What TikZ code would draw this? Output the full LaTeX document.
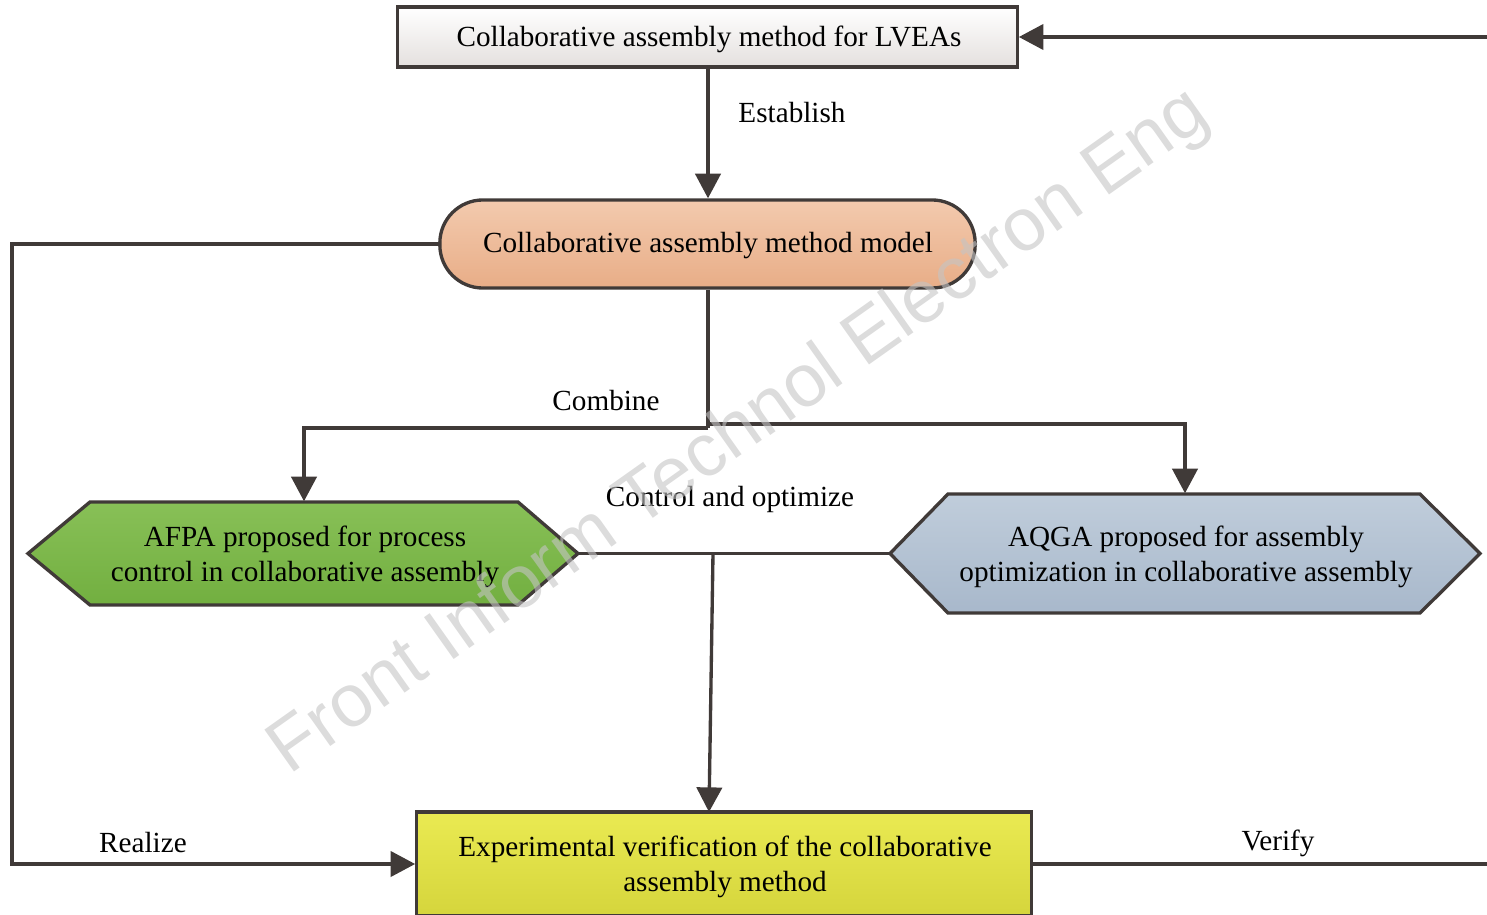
\documentclass[tikz,border=0pt]{standalone}
\usepackage{fontspec}
\setmainfont{Liberation Serif}
\newfontfamily\wmfont{Liberation Sans}
\usetikzlibrary{arrows.meta,calc}
\definecolor{ln}{HTML}{403A38}
\definecolor{topgray}{HTML}{E4E0DE}
\definecolor{salmonT}{HTML}{F3CAAE}
\definecolor{salmonB}{HTML}{E8AD87}
\definecolor{greenT}{HTML}{88C057}
\definecolor{greenB}{HTML}{72AF40}
\definecolor{blueT}{HTML}{C0CDDB}
\definecolor{blueB}{HTML}{A8B8CB}
\definecolor{yelT}{HTML}{EAEA52}
\definecolor{yelB}{HTML}{D5D53C}
\definecolor{wm}{HTML}{C4C4C4}
\begin{document}
\begin{tikzpicture}[x=0.01cm,y=-0.01cm,
  every node/.style={font=\fontsize{8.3}{10}\selectfont, text=black},
  conn/.style={draw=ln,line width=0.95pt},
  arr/.style={conn,-{Triangle[length=7pt,width=7.2pt]}},
  box/.style={draw=ln,line width=0.95pt,inner sep=0pt},
  txt/.style={align=center,inner sep=0pt},
  lbl/.style={inner sep=0pt}]
\useasboundingbox (0,0) rectangle (1487,915);

% boxes
\node[box, top color=white, bottom color=topgray, minimum width=6.19cm, minimum height=0.60cm] (top) at (707.5,37) {};
\node[txt] (topT) at (709,39) {Collaborative assembly method for LVEAs};
\node[box, rounded corners=0.43cm, top color=salmonT, bottom color=salmonB, minimum width=5.35cm, minimum height=0.88cm] (model) at (707.5,244) {};
\node[txt] (modelT) at (708,246) {Collaborative assembly method model};

% hexagons
\shadedraw[draw=ln,line width=0.95pt,top color=greenT,bottom color=greenB]
  (28,553.5) -- (90,502) -- (518,502) -- (578,553.5) -- (518,605) -- (90,605) -- cycle;
\node[inner sep=0pt,minimum width=4.28cm,minimum height=1.03cm] (afpa) at (304,553.5) {};
\node[txt] (afpaT) at (305,557) {AFPA proposed for process\\control in collaborative assembly};
\coordinate (afpaR) at (578,553.5);

\shadedraw[draw=ln,line width=0.95pt,top color=blueT,bottom color=blueB]
  (890,553.5) -- (948,494) -- (1420,494) -- (1480,553.5) -- (1420,613) -- (948,613) -- cycle;
\node[inner sep=0pt,minimum width=4.72cm,minimum height=1.19cm] (aqga) at (1185,553.5) {};
\node[txt] (aqgaT) at (1186,557) {AQGA proposed for assembly\\optimization in collaborative assembly};
\coordinate (aqgaL) at (890,553.5);

\node[box, top color=yelT, bottom color=yelB, minimum width=6.14cm, minimum height=1.04cm] (exp) at (724,864) {};
\node[txt] (expT) at (725,867) {Experimental verification of the collaborative\\assembly method};

% coordinates
\coordinate (rin) at (1487,37);
\coordinate (rout) at (1487,863);
\coordinate (lc) at (12,244);
\coordinate (j1) at (708,428);
\coordinate (j2) at (708,424);
\coordinate (c1) at (713,553.5);
\coordinate (c2) at (709,812);

% connectors
\draw[arr] (rin) -- (top.east);
\draw[arr] (top.south -| 708,0) -- (model.north -| 708,0);
\draw[conn] (model.south -| 708,0) -- (j1);
\draw[arr] (j1) -| (afpa.north);
\draw[arr] (j2) -| (aqga.north);
\draw[conn] (afpaR) -- (aqgaL);
\draw[arr] (c1) -- (c2);
\draw[arr] (model.west) -- (lc) |- (exp.west);
\draw[conn] (exp.east) -- (exp.east -| rout);

% labels
\node[lbl] (lEst) at (792,113) {Establish};
\node[lbl] (lCom) at (606,401) {Combine};
\node[lbl] (lCtl) at (730,499) {Control and optimize};
\node[lbl] (lRea) at (143,843) {Realize};
\node[lbl] (lVer) at (1278,843) {Verify};

% watermark
\node[rotate=35.3, text=wm, opacity=0.6, font=\wmfont\fontsize{21.2}{24}\selectfont, inner sep=0pt] (wmk) at (740,433) {Front Inform Technol Electron Eng};
\end{tikzpicture}
\end{document}
